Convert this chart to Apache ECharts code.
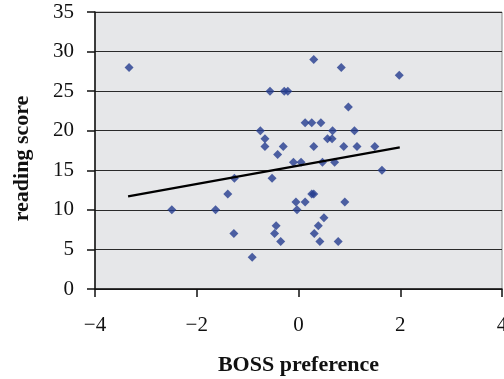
<!DOCTYPE html>
<html>
<head>
<meta charset="utf-8">
<script src="https://cdn.jsdelivr.net/npm/echarts@6/dist/echarts.min.js"></script>
<style>
  html, body { margin: 0; padding: 0; background: #fff; }
  #chart { width: 504px; height: 379px; }
</style>
</head>
<body>
<div id="chart"></div>
<script>
// BOSS preference (x) vs reading score (y)
const bossPref = [
  -3.33, 0.30, 0.84, 1.98, -0.56, -0.28, -0.21, 0.98, 0.13, 0.26,
  0.44, -0.75, 0.67, 1.10, -0.66, 0.57, 0.66, -0.66, -0.30, 0.30,
  0.89, 1.15, 1.50, -0.41, -0.10, 0.05, 0.47, 0.71, 1.64, -1.26,
  -0.52, -1.39, 0.26, 0.30, -0.05, 0.13, 0.91, -2.49, -1.63, -0.03,
  0.50, -0.44, 0.39, -1.27, -0.47, 0.31, -0.35, 0.42, 0.78, -0.91
];
const readingScore = [
  28, 29, 28, 27, 25, 25, 25, 23, 21, 21,
  21, 20, 20, 20, 19, 19, 19, 18, 18, 18,
  18, 18, 18, 17, 16, 16, 16, 16, 15, 14,
  14, 12, 12, 12, 11, 11, 11, 10, 10, 10,
  9, 8, 8, 7, 7, 7, 6, 6, 6, 4
];
// fitted trend line end points
const trendX = [-3.35, 1.99];
const trendY = [11.7, 17.9];

const xTicks = [-4, -2, 0, 2, 4];
const yTicks = [0, 5, 10, 15, 20, 25, 30, 35];

const font = "'Liberation Serif', 'DejaVu Serif', serif";

let myChart = echarts.init(document.getElementById("chart"));

myChart.setOption({
  animation: false,
  grid: {
    left: 95, right: 2, top: 12, bottom: 90,
    outerBoundsMode: "none",
    containLabel: false,
    show: true,
    backgroundColor: "#e6e7e9",
    borderColor: "#8a8a8a",
    borderWidth: 1
  },
  xAxis: {
    type: "value",
    min: xTicks[0],
    max: xTicks[xTicks.length - 1],
    interval: 2,
    name: "BOSS preference",
    nameLocation: "middle",
    nameGap: 65,
    nameTextStyle: { fontFamily: font, fontSize: 22, fontWeight: "bold", color: "#111" },
    axisLine: { show: true, onZero: false, lineStyle: { color: "#111", width: 1.5 } },
    axisTick: { show: true, inside: false, length: 8, lineStyle: { color: "#111", width: 1.5 } },
    axisLabel: {
      margin: 26,
      fontFamily: font, fontSize: 21, color: "#111",
      formatter: (v) => String(v).replace("-", "\u2212")
    },
    splitLine: { show: false }
  },
  yAxis: {
    type: "value",
    min: yTicks[0],
    max: yTicks[yTicks.length - 1],
    interval: 5,
    name: "reading score",
    nameLocation: "middle",
    nameGap: 62,
    nameTextStyle: {
      fontFamily: font, fontSize: 22, fontWeight: "bold", color: "#111",
      padding: [0, 16, 0, 0]
    },
    axisLine: { show: true, onZero: false, lineStyle: { color: "#111", width: 1.5 } },
    axisTick: { show: true, inside: false, length: 8, lineStyle: { color: "#111", width: 1.5 } },
    axisLabel: { margin: 21, fontFamily: font, fontSize: 21, color: "#111" },
    splitLine: { show: true, lineStyle: { color: "#2a2a2a", width: 1 } }
  },
  series: [
    {
      type: "scatter",
      symbol: "diamond",
      symbolSize: 9,
      itemStyle: { color: "#243c8e" },
      data: bossPref.map((x, i) => [x, readingScore[i]])
    },
    {
      type: "line",
      showSymbol: false,
      symbol: "none",
      lineStyle: { color: "#000", width: 2.2 },
      data: trendX.map((x, i) => [x, trendY[i]])
    }
  ]
});
</script>
</body>
</html>
